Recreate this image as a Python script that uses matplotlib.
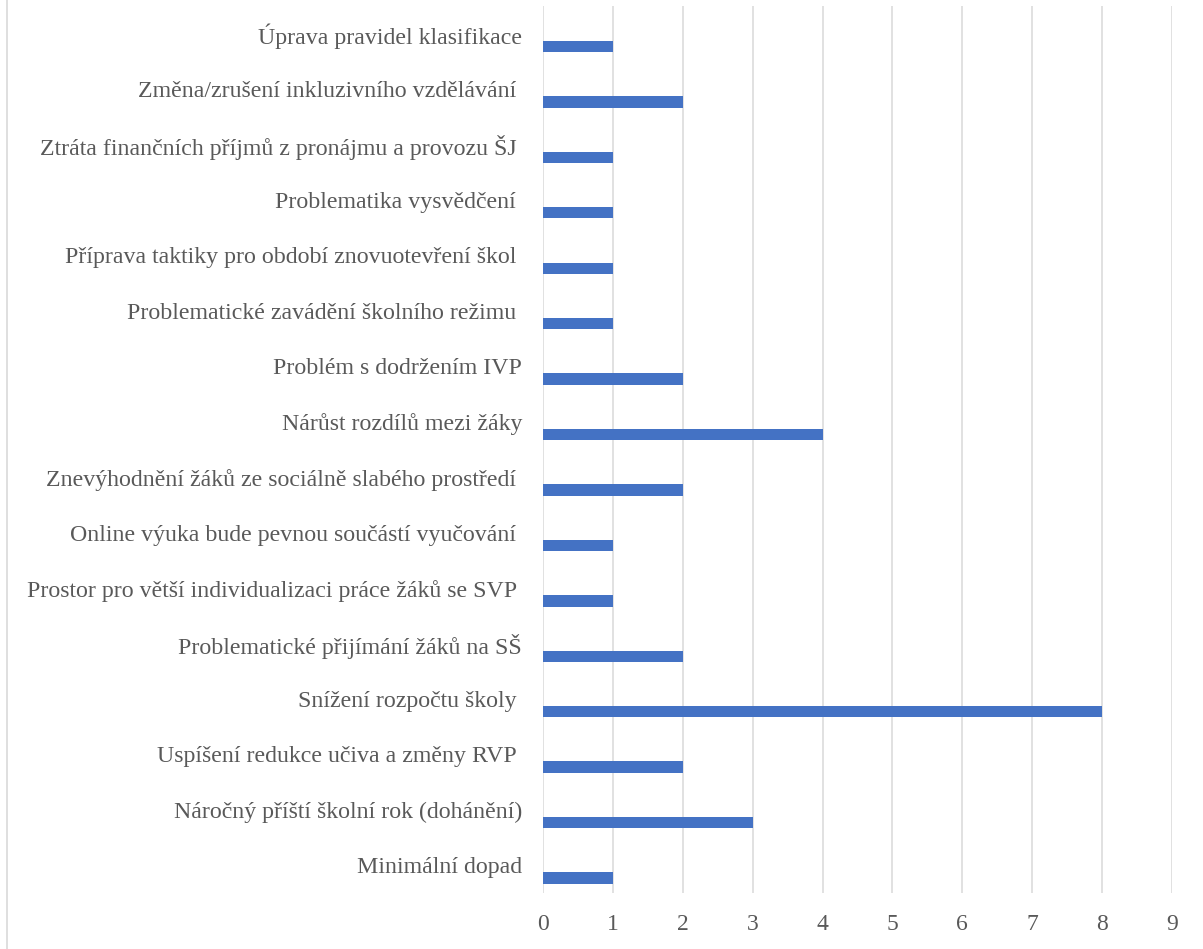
import matplotlib.pyplot as plt
from matplotlib.lines import Line2D

# categories from top to bottom, as in the chart
labels = [
    "Úprava pravidel klasifikace",
    "Změna/zrušení inkluzivního vzdělávání ",
    "Ztráta finančních příjmů z pronájmu a provozu ŠJ ",
    "Problematika vysvědčení ",
    "Příprava taktiky pro období znovuotevření škol ",
    "Problematické zavádění školního režimu ",
    "Problém s dodržením IVP",
    "Nárůst rozdílů mezi žáky",
    "Znevýhodnění žáků ze sociálně slabého prostředí ",
    "Online výuka bude pevnou součástí vyučování ",
    "Prostor pro větší individualizaci práce žáků se SVP ",
    "Problematické přijímání žáků na SŠ",
    "Snížení rozpočtu školy ",
    "Uspíšení redukce učiva a změny RVP ",
    "Náročný příští školní rok (dohánění)",
    "Minimální dopad",
]
values = [1, 2, 1, 1, 1, 1, 2, 4, 2, 1, 1, 2, 8, 2, 3, 1]

text_color = "#595959"
grid_color = "#D9D9D9"
bar_color = "#4472C4"

plt.rcParams["font.family"] = ["Liberation Serif", "DejaVu Serif"]

fig = plt.figure(figsize=(12.03, 9.49), dpi=100)
ax = fig.add_axes([543 / 1203, 1 - 893 / 949, (1172 - 543) / 1203, (893 - 6) / 949])

pos = list(range(len(labels)))
# bars sit a little below the centre of each category band
ax.barh([p + 0.23 for p in pos], values, height=0.205, color=bar_color, zorder=3)

ax.set_xlim(0, 9)
ax.set_ylim(len(labels) - 0.5, -0.5)
ax.set_xticks(range(0, 10))
ax.set_yticks(pos)
ax.set_yticklabels(labels)

ax.grid(axis="x", color=grid_color, linewidth=1.1, zorder=0)
ax.set_axisbelow(True)
for s in ax.spines.values():
    s.set_visible(False)

ax.tick_params(axis="y", length=0, pad=15, labelsize=17.2, labelcolor=text_color)
ax.tick_params(axis="x", length=0, pad=15, labelsize=17, labelcolor=text_color)

# chart frame, only its left edge shows in the picture
fig.add_artist(Line2D([7 / 1203, 7 / 1203], [0, 1], color=grid_color, linewidth=1.2))

fig.savefig("out.png", dpi=100)
